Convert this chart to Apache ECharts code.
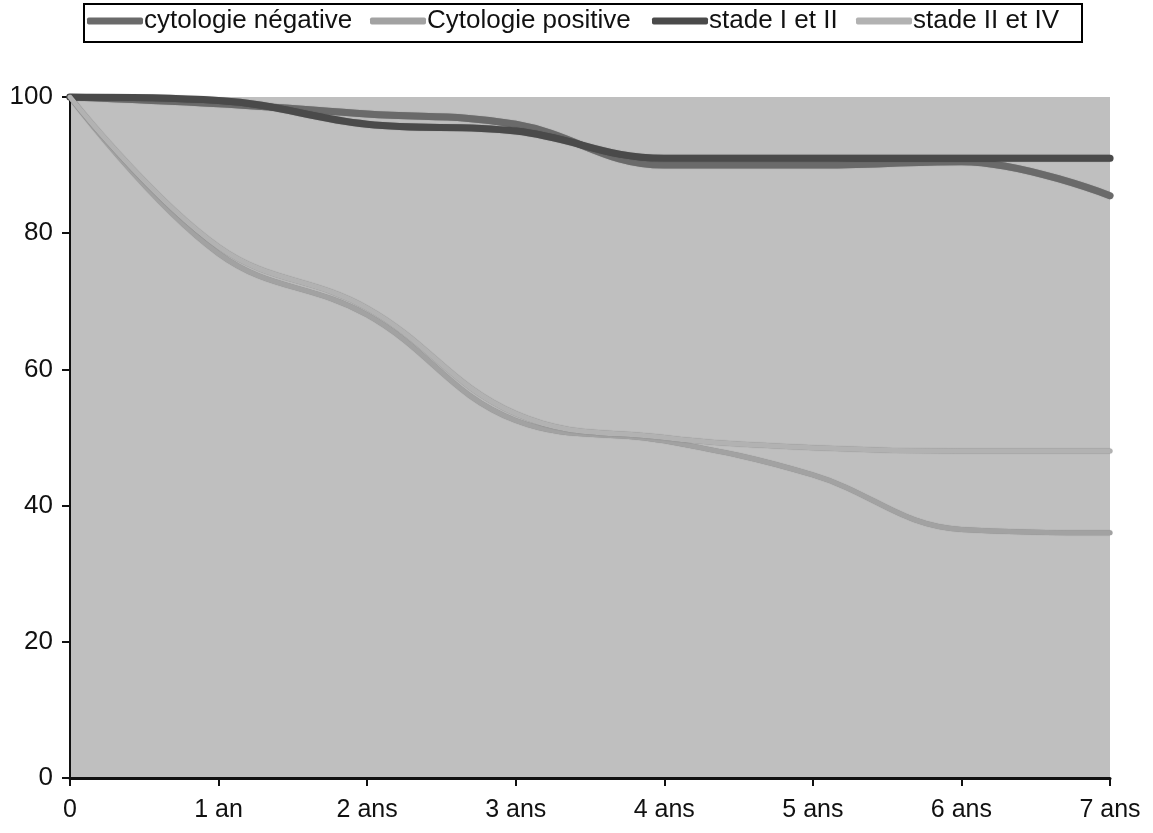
<!DOCTYPE html>
<html>
<head>
<meta charset="utf-8">
<script src="https://cdn.jsdelivr.net/npm/echarts@6/dist/echarts.min.js"></script>
<style>
html,body{margin:0;padding:0;background:#fff;}
#c{width:1153px;height:833px;}
</style>
</head>
<body>
<div id="c"></div>
<script>
const categories = ['0', '1 an', '2 ans', '3 ans', '4 ans', '5 ans', '6 ans', '7 ans'];
const seriesNames = ['cytologie négative', 'Cytologie positive', 'stade I et II', 'stade II et IV'];
const cytoNegative = [100, 99, 97.5, 96, 90, 90, 90.5, 85.5];
const cytoPositive = [100, 77, 68, 52.5, 49.5, 44.5, 36.5, 36];
const stadeI_II = [100, 99.5, 96, 95, 91, 91, 91, 91];
const stadeII_IV = [100, 78, 69, 53.5, 50, 48.5, 48, 48];
const yTicks = [0, 20, 40, 60, 80, 100];

const chart = echarts.init(document.getElementById('c'));
const font = 'Liberation Sans, Arial, sans-serif';
const legendLefts = [87, 370, 652, 856];
function mk(name, data, color, width) {
  return {
    name: name, type: 'line', data: data, smooth: 0.4,
    symbol: 'none',
    lineStyle: {color: color, width: width, cap: 'round',
      shadowColor: 'rgba(0,0,0,0.3)', shadowBlur: 1},
    itemStyle: {color: color}
  };
}
chart.setOption({
  animation: false,
  backgroundColor: '#fff',
  graphic: [{
    type: 'rect', left: 83, top: 3,
    shape: {width: 998, height: 38},
    style: {fill: '#fff', stroke: '#000', lineWidth: 2},
    z: -1
  }],
  legend: seriesNames.map((n, i) => ({
    top: 8, left: legendLefts[i], padding: 0,
    itemWidth: 56, itemHeight: 7, icon: 'roundRect', itemGap: 0,
    textStyle: {fontFamily: font, fontSize: 26, color: '#111', padding: [0, 0, 0, -4]},
    data: [n]
  })),
  grid: {
    left: 70, right: 43, top: 97, bottom: 55,
    show: true, backgroundColor: '#bfbfbf', borderWidth: 0
  },
  xAxis: {
    type: 'category', data: categories, boundaryGap: false,
    axisLine: {lineStyle: {color: '#111', width: 3}},
    axisTick: {show: true, alignWithLabel: true, length: 8, lineStyle: {color: '#111', width: 2}},
    axisLabel: {fontFamily: font, fontSize: 25, color: '#111', margin: 20},
    splitLine: {show: false}
  },
  yAxis: {
    type: 'value', min: yTicks[0], max: yTicks[yTicks.length - 1], interval: 20,
    axisLine: {show: true, lineStyle: {color: '#111', width: 2}},
    axisTick: {show: true, length: 8, lineStyle: {color: '#111', width: 2}},
    axisLabel: {fontFamily: font, fontSize: 26, color: '#111', margin: 17},
    splitLine: {show: false}
  },
  series: [
    mk(seriesNames[0], cytoNegative, '#6a6a6a', 7),
    mk(seriesNames[1], cytoPositive, '#a2a2a2', 5),
    mk(seriesNames[2], stadeI_II, '#4a4a4a', 7),
    mk(seriesNames[3], stadeII_IV, '#b2b2b2', 5)
  ]
});
</script>
</body>
</html>
